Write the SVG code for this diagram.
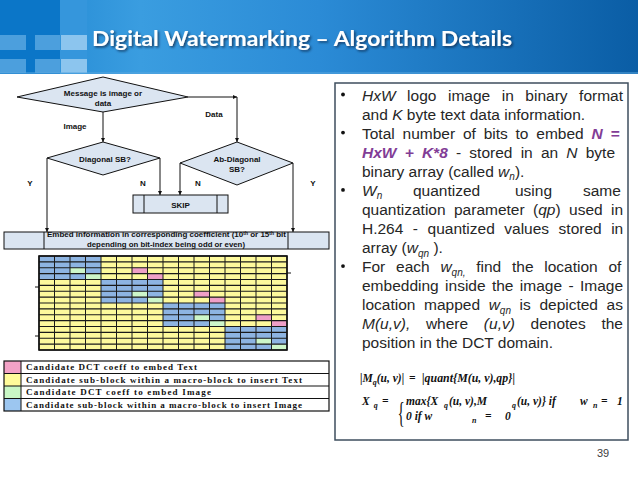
<svg xmlns="http://www.w3.org/2000/svg" width="638" height="479" viewBox="0 0 638 479">
<defs>
<linearGradient id="hdr" x1="0" y1="0" x2="1" y2="0">
<stop offset="0" stop-color="#1d84d0"/>
<stop offset="0.22" stop-color="#3a9de0"/>
<stop offset="0.5" stop-color="#2b8bd6"/>
<stop offset="1" stop-color="#0a5da5"/>
</linearGradient>
<filter id="sh" x="-5%" y="-30%" width="110%" height="160%">
<feDropShadow dx="1.5" dy="1.5" stdDeviation="0.8" flood-color="#0a2440" flood-opacity="0.75"/>
</filter>
<marker id="arr" viewBox="0 0 6 6" refX="6" refY="3" markerWidth="4.5" markerHeight="4.5" orient="auto">
<path d="M0,0 L6,3 L0,6 z" fill="#111"/>
</marker>
<style>
.fc{fill:#dbe5f1;stroke:#111;stroke-width:1}
.ln{fill:none;stroke:#111;stroke-width:1}
.ft{font-family:"Liberation Sans",Arial,sans-serif;font-weight:bold;font-size:8px;fill:#111;text-anchor:middle}
.lg{font-family:"Liberation Serif","Times New Roman",serif;font-size:9px;fill:#111;font-weight:bold}
.bt{font-family:"Liberation Sans",Arial,sans-serif;font-size:15.5px;fill:#262626}
.it{font-style:italic}
.pu{font-weight:bold;font-style:italic;fill:#823d96}
.sb{font-size:10px}
.mf{font-family:"Liberation Serif","Times New Roman",serif;font-weight:bold;font-style:italic;font-size:11.5px;fill:#111}
</style>
</defs>

<g id="header">
<rect x="0" y="0" width="638" height="74" fill="url(#hdr)"/>
<rect x="0" y="0" width="60" height="74" fill="#0b76c8"/>
<rect x="60" y="0" width="27" height="74" fill="#3596dc"/>
<rect x="0" y="35" width="26" height="15" fill="#4c9fdd"/>
<rect x="35" y="35" width="25" height="15" fill="#4c9fdd"/>
<rect x="61" y="35" width="26" height="15" fill="#8cc5ee"/>
<rect x="0" y="59" width="26" height="14" fill="#4c9fdd"/>
<rect x="35" y="59" width="25" height="14" fill="#4c9fdd"/>
<rect x="61" y="59" width="26" height="14" fill="#8cc5ee"/>
<rect x="0" y="72" width="638" height="2" fill="#5aa8e0" opacity="0.5"/>
</g>
<g id="title">
<text x="92" y="46" font-family="Lato,'Open Sans',sans-serif" font-weight="bold" font-size="21" fill="#ffffff" textLength="420" lengthAdjust="spacingAndGlyphs" filter="url(#sh)">Digital Watermarking – Algorithm Details</text>
</g>

<g id="n-message">
<polygon class="fc" points="17,97 103,77 188,97 103,112"/>
<text class="ft" x="103" y="96">Message is image or</text>
<text class="ft" x="103" y="106">data</text>
</g>
<g id="n-diagonal">
<polygon class="fc" points="47,158 103,142 160,158 103,175"/>
<text class="ft" x="105" y="162">Diagonal SB?</text>
</g>
<g id="n-abdiagonal">
<polygon class="fc" points="180,163 237,142 293,163 237,185"/>
<text class="ft" x="237" y="162">Ab-Diagonal</text>
<text class="ft" x="237" y="172">SB?</text>
</g>
<g id="n-skip">
<rect class="fc" x="133" y="195" width="95" height="18"/>
<path class="ln" d="M144,195 V213 M217,195 V213"/>
<text class="ft" x="180.5" y="208" font-size="11">SKIP</text>
</g>
<g id="n-embed">
<rect class="fc" x="4" y="232" width="325" height="17"/>
<path class="ln" d="M44,232 V249 M288,232 V249"/>
<text class="ft" x="166.5" y="237.3" font-size="7.8" textLength="239" lengthAdjust="spacingAndGlyphs">Embed information in corresponding coefficient (10<tspan font-size="5" dy="-2.5">th</tspan><tspan dy="2.5"> or 15</tspan><tspan font-size="5" dy="-2.5">th</tspan><tspan dy="2.5"> bit</tspan></text>
<text class="ft" x="166" y="247" font-size="7.8" textLength="158" lengthAdjust="spacingAndGlyphs">depending on bit-index being odd or even)</text>
</g>

<g id="connectors">
<line class="ln" x1="103" y1="112" x2="103" y2="142" marker-end="url(#arr)"/>
<line class="ln" x1="188" y1="97" x2="237" y2="97" marker-end="url(#arr)"/>
<line class="ln" x1="237" y1="97" x2="237" y2="142" marker-end="url(#arr)"/>
<line class="ln" x1="47" y1="158" x2="47" y2="232" marker-end="url(#arr)"/>
<line class="ln" x1="160" y1="158" x2="160" y2="195" marker-end="url(#arr)"/>
<line class="ln" x1="180" y1="163" x2="180" y2="195" marker-end="url(#arr)"/>
<line class="ln" x1="293" y1="163" x2="293" y2="232" marker-end="url(#arr)"/>
<text class="ft" x="75" y="129">Image</text>
<text class="ft" x="214" y="117">Data</text>
<text class="ft" x="30" y="186">Y</text>
<text class="ft" x="143" y="186">N</text>
<text class="ft" x="198" y="186">N</text>
<text class="ft" x="313" y="186">Y</text>
</g>

<g id="grid">
<rect x="39" y="256" width="248" height="94" fill="#fdf99c"/>
<g fill="#8db4e2">
<rect x="39" y="256" width="62" height="23.5"/>
<rect x="101" y="279.5" width="62" height="23.5"/>
<rect x="163" y="303" width="62" height="23.5"/>
<rect x="225" y="326.5" width="62" height="23.5"/>
</g>
<g fill="#cdf6c9">
<rect x="70" y="267.75" width="15.5" height="5.875"/>
<rect x="85.5" y="273.625" width="15.5" height="5.875"/>
<rect x="132" y="291.25" width="15.5" height="5.875"/>
<rect x="147.5" y="297.125" width="15.5" height="5.875"/>
<rect x="194" y="314.75" width="15.5" height="5.875"/>
<rect x="209.5" y="320.625" width="15.5" height="5.875"/>
<rect x="256" y="338.25" width="15.5" height="5.875"/>
<rect x="271.5" y="344.125" width="15.5" height="5.875"/>
</g>
<g fill="#ef9fc7">
<rect x="132" y="267.75" width="15.5" height="5.875"/>
<rect x="147.5" y="273.625" width="15.5" height="5.875"/>
<rect x="194" y="291.25" width="15.5" height="5.875"/>
<rect x="209.5" y="297.125" width="15.5" height="5.875"/>
<rect x="256" y="314.75" width="15.5" height="5.875"/>
<rect x="271.5" y="320.625" width="15.5" height="5.875"/>
</g>
<path fill="none" stroke="#1a1a1a" stroke-width="1.2" d="M39,256H287M39,261.875H287M39,267.75H287M39,273.625H287M39,279.5H287M39,285.375H287M39,291.25H287M39,297.125H287M39,303H287M39,308.875H287M39,314.75H287M39,320.625H287M39,326.5H287M39,332.375H287M39,338.25H287M39,344.125H287M39,350H287"/>
<path fill="none" stroke="#1a1a1a" stroke-width="1" d="M39,256V350M54.5,256V350M70,256V350M85.5,256V350M101,256V350M116.5,256V350M132,256V350M147.5,256V350M163,256V350M178.5,256V350M194,256V350M209.5,256V350M225,256V350M240.5,256V350M256,256V350M271.5,256V350M287,256V350"/>
<rect x="39" y="256" width="248" height="94" fill="none" stroke="#111" stroke-width="1.6"/>
<path fill="none" stroke="#111" stroke-width="1" d="M35,287H39M35,336H39M287,273H291"/>
</g>

<g id="legend">
<rect x="4" y="361" width="17" height="12.5" fill="#f3a2c6"/>
<rect x="4" y="373.5" width="17" height="12.5" fill="#fffb9a"/>
<rect x="4" y="386" width="17" height="12.5" fill="#c9f7c5"/>
<rect x="4" y="398.5" width="17" height="12.5" fill="#9cc6f0"/>
<rect x="4" y="361" width="325" height="50" fill="none" stroke="#111" stroke-width="1.2"/>
<path fill="none" stroke="#111" stroke-width="1" d="M4,373.5H329M4,386H329M4,398.5H329M21,361V411"/>
<text class="lg" x="26" y="370" textLength="171" lengthAdjust="spacing">Candidate DCT coeff to embed Text</text>
<text class="lg" x="26" y="382.5" textLength="276" lengthAdjust="spacing">Candidate sub-block within a macro-block to insert Text</text>
<text class="lg" x="26" y="395" textLength="185" lengthAdjust="spacing">Candidate DCT coeff to embed Image</text>
<text class="lg" x="26" y="407.5" textLength="276" lengthAdjust="spacing">Candidate sub-block within a macro-block to insert Image</text>
</g>

<g id="bullets">
<rect x="335" y="83" width="293" height="357" fill="#ffffff" stroke="#3e4e5e" stroke-width="1.5"/>
<g fill="#111">
<circle cx="343" cy="94.5" r="1.9"/>
<circle cx="343" cy="132.6" r="1.9"/>
<circle cx="343" cy="189.9" r="1.9"/>
<circle cx="343" cy="266.1" r="1.9"/>
</g>
<text class="bt" x="362" y="100.5" word-spacing="7.24"><tspan class="it">HxW</tspan> logo image in binary format</text>
<text class="bt" x="362" y="119.6">and <tspan class="it">K</tspan> byte text data information.</text>
<text class="bt" x="362" y="138.6" word-spacing="3.5">Total number of bits to embed <tspan class="pu">N =</tspan></text>
<text class="bt" x="362" y="157.7" word-spacing="3.9"><tspan class="pu">HxW + K*8</tspan> - stored in an <tspan class="it">N</tspan> byte</text>
<text class="bt" x="362" y="176.8">binary array (called <tspan class="it">w</tspan><tspan class="it sb" dy="3.5">n</tspan><tspan dy="-3.5">).</tspan></text>
<text class="bt" x="362" y="195.9"><tspan class="it">W</tspan><tspan class="it sb" dy="3.5">n</tspan><tspan x="413" dy="-3.5">quantized</tspan><tspan x="515">using</tspan><tspan x="583">same</tspan></text>
<text class="bt" x="362" y="214.9" word-spacing="4.1">quantization parameter (<tspan class="it">qp</tspan>) used in</text>
<text class="bt" x="362" y="234" word-spacing="5.2">H.264 - quantized values stored in</text>
<text class="bt" x="362" y="253.1">array (<tspan class="it">w</tspan><tspan class="it sb" dy="3.5">qn</tspan><tspan dy="-3.5"> ).</tspan></text>
<text class="bt" x="362" y="272.1" word-spacing="6.45">For each <tspan class="it">w</tspan><tspan class="it sb" dy="3.5">qn,</tspan><tspan dy="-3.5"> find the location of</tspan></text>
<text class="bt" x="362" y="291.2" word-spacing="2.06">embedding inside the image - Image</text>
<text class="bt" x="362" y="310.3" word-spacing="4.3">location mapped <tspan class="it">w</tspan><tspan class="it sb" dy="3.5">qn</tspan><tspan dy="-3.5"> is depicted as</tspan></text>
<text class="bt" x="362" y="329.3" word-spacing="11.4"><tspan class="it">M(u,v),</tspan> where <tspan class="it">(u,v)</tspan> denotes the</text>
<text class="bt" x="362" y="348.4">position in the DCT domain.</text>
</g>

<g id="formulas">
<text class="mf" x="360" y="382">|M<tspan font-size="8" dy="2.5">q</tspan><tspan dy="-2.5">(u, v)|</tspan></text>
<text class="mf" x="409" y="382">=</text>
<text class="mf" x="422" y="382" textLength="93" lengthAdjust="spacingAndGlyphs">|quant{M(u, v),qp}|</text>
<text class="mf" x="362" y="405" font-size="13">X<tspan font-size="8" dx="4" dy="3">q</tspan></text>
<text class="mf" x="382" y="405">=</text>
<text transform="translate(397.5,422) scale(0.5,1)" font-family="'Liberation Serif',serif" font-size="30" fill="#111">{</text>
<text class="mf" x="406" y="405">max{X<tspan x="444" font-size="8" dy="2.5">q</tspan><tspan x="449" dy="-2.5">(u, v),M</tspan><tspan x="512" font-size="8" dy="2.5">q</tspan><tspan x="517" dy="-2.5">(u, v)} if</tspan><tspan x="580">w</tspan><tspan x="593" font-size="8" dy="2.5">n</tspan><tspan x="601" dy="-2.5">=</tspan><tspan x="617">1</tspan></text>
<text class="mf" x="406" y="420">0 if w<tspan x="472" font-size="8" dy="2.5">n</tspan><tspan x="485" dy="-2.5">=</tspan><tspan x="505">0</tspan></text>
</g>

<g id="page">
<text x="597" y="457" font-family="'Liberation Sans',Arial,sans-serif" font-size="11" fill="#404040">39</text>
</g>
</svg>
